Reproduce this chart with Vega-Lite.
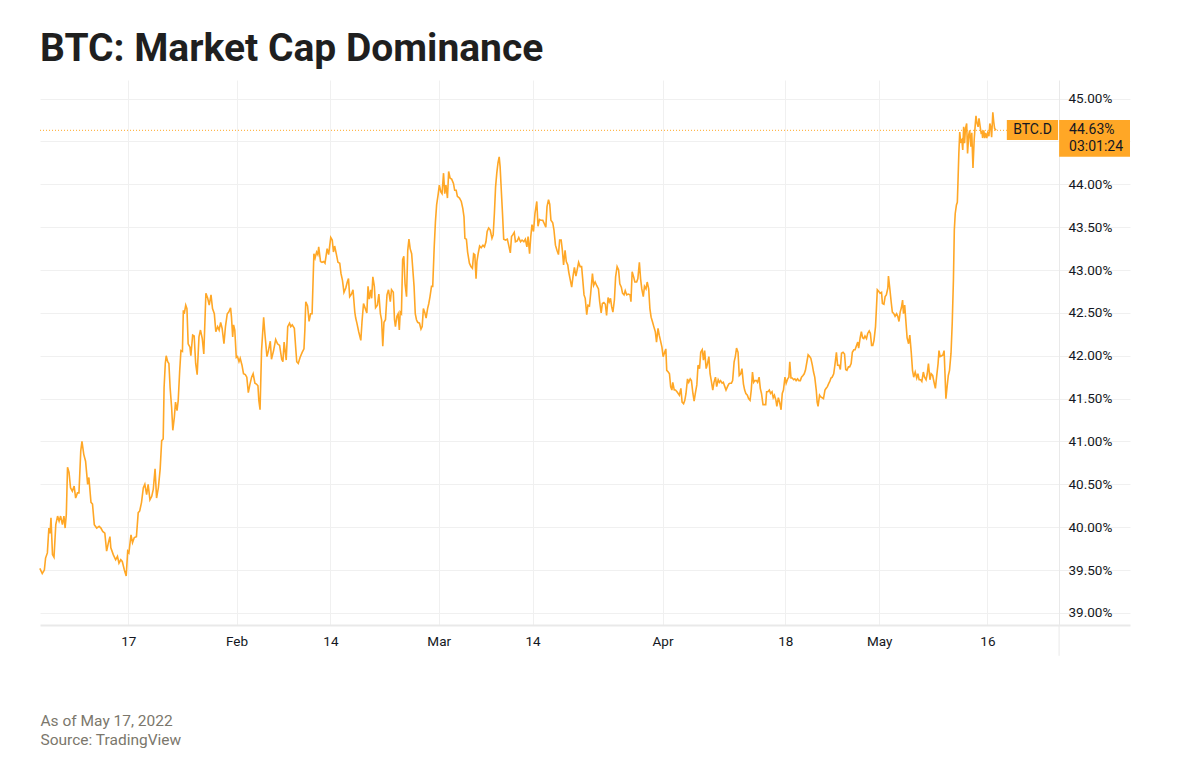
{
"$schema": "https://vega.github.io/schema/vega-lite/v6.json",
"width": 1090, "height": 545,
"autosize": {"type": "none"},
"padding": {"left": 40, "top": 80, "right": 48, "bottom": 157},
"background": "#ffffff",
"title": {"text": "BTC: Market Cap Dominance", "anchor": "start", "frame": "group", "font": "Roboto", "fontSize": 39, "fontWeight": "bold", "color": "#1f1f1f", "baseline": "alphabetic", "offset": -20},
"config": {"view": {"stroke": null}},
"layer": [
{"data": {"values": [
{"t":"2022-01-04 18","v":39.52},{"t":"2022-01-05 02","v":39.46},{"t":"2022-01-05 09","v":39.50},{"t":"2022-01-05 13","v":39.64},{"t":"2022-01-05 19","v":39.70},{"t":"2022-01-06 00","v":39.99},{"t":"2022-01-06 04","v":39.93},{"t":"2022-01-06 07","v":40.11},{"t":"2022-01-06 12","v":39.68},{"t":"2022-01-06 17","v":39.65},{"t":"2022-01-06 23","v":40.03},{"t":"2022-01-07 05","v":40.13},{"t":"2022-01-07 10","v":40.07},{"t":"2022-01-07 15","v":40.13},{"t":"2022-01-07 21","v":40.03},{"t":"2022-01-08 02","v":40.13},{"t":"2022-01-08 06","v":39.99},{"t":"2022-01-08 10","v":40.15},{"t":"2022-01-08 14","v":40.70},{"t":"2022-01-08 19","v":40.64},{"t":"2022-01-09 00","v":40.46},{"t":"2022-01-09 06","v":40.42},{"t":"2022-01-09 12","v":40.48},{"t":"2022-01-09 17","v":40.34},{"t":"2022-01-09 23","v":40.40},{"t":"2022-01-10 04","v":40.40},{"t":"2022-01-10 10","v":40.89},{"t":"2022-01-10 14","v":41.00},{"t":"2022-01-10 20","v":40.85},{"t":"2022-01-11 02","v":40.77},{"t":"2022-01-11 09","v":40.50},{"t":"2022-01-11 13","v":40.58},{"t":"2022-01-11 20","v":40.29},{"t":"2022-01-12 01","v":40.27},{"t":"2022-01-12 07","v":40.03},{"t":"2022-01-12 15","v":39.99},{"t":"2022-01-12 23","v":40.01},{"t":"2022-01-13 05","v":39.99},{"t":"2022-01-13 11","v":39.95},{"t":"2022-01-13 18","v":39.93},{"t":"2022-01-14 00","v":39.72},{"t":"2022-01-14 06","v":39.82},{"t":"2022-01-14 11","v":39.89},{"t":"2022-01-14 14","v":39.76},{"t":"2022-01-14 22","v":39.68},{"t":"2022-01-15 06","v":39.62},{"t":"2022-01-15 12","v":39.66},{"t":"2022-01-15 17","v":39.58},{"t":"2022-01-15 23","v":39.62},{"t":"2022-01-16 04","v":39.60},{"t":"2022-01-16 11","v":39.50},{"t":"2022-01-16 17","v":39.43},{"t":"2022-01-16 22","v":39.72},{"t":"2022-01-17 02","v":39.70},{"t":"2022-01-17 09","v":39.91},{"t":"2022-01-17 14","v":39.82},{"t":"2022-01-17 20","v":39.88},{"t":"2022-01-18 03","v":39.89},{"t":"2022-01-18 09","v":40.17},{"t":"2022-01-18 14","v":40.19},{"t":"2022-01-18 20","v":40.29},{"t":"2022-01-19 02","v":40.46},{"t":"2022-01-19 07","v":40.50},{"t":"2022-01-19 13","v":40.38},{"t":"2022-01-19 18","v":40.50},{"t":"2022-01-20 00","v":40.32},{"t":"2022-01-20 06","v":40.36},{"t":"2022-01-20 11","v":40.44},{"t":"2022-01-20 17","v":40.68},{"t":"2022-01-20 22","v":40.34},{"t":"2022-01-21 04","v":40.46},{"t":"2022-01-21 10","v":40.68},{"t":"2022-01-21 15","v":41.01},{"t":"2022-01-21 20","v":41.03},{"t":"2022-01-21 23","v":41.63},{"t":"2022-01-22 03","v":41.91},{"t":"2022-01-22 06","v":42.00},{"t":"2022-01-22 11","v":41.93},{"t":"2022-01-22 15","v":41.91},{"t":"2022-01-22 19","v":41.63},{"t":"2022-01-23 00","v":41.40},{"t":"2022-01-23 04","v":41.13},{"t":"2022-01-23 09","v":41.28},{"t":"2022-01-23 13","v":41.46},{"t":"2022-01-23 18","v":41.36},{"t":"2022-01-23 22","v":41.48},{"t":"2022-01-24 03","v":41.83},{"t":"2022-01-24 07","v":42.06},{"t":"2022-01-24 12","v":42.05},{"t":"2022-01-24 15","v":42.53},{"t":"2022-01-24 18","v":42.49},{"t":"2022-01-24 23","v":42.59},{"t":"2022-01-25 03","v":42.55},{"t":"2022-01-25 07","v":42.14},{"t":"2022-01-25 13","v":42.10},{"t":"2022-01-25 16","v":42.00},{"t":"2022-01-25 22","v":42.24},{"t":"2022-01-26 03","v":42.23},{"t":"2022-01-26 08","v":41.91},{"t":"2022-01-26 13","v":41.78},{"t":"2022-01-26 19","v":42.22},{"t":"2022-01-27 00","v":42.30},{"t":"2022-01-27 06","v":42.20},{"t":"2022-01-27 11","v":42.02},{"t":"2022-01-27 18","v":42.73},{"t":"2022-01-28 00","v":42.67},{"t":"2022-01-28 05","v":42.59},{"t":"2022-01-28 11","v":42.71},{"t":"2022-01-28 16","v":42.55},{"t":"2022-01-28 22","v":42.49},{"t":"2022-01-29 03","v":42.28},{"t":"2022-01-29 09","v":42.34},{"t":"2022-01-29 14","v":42.30},{"t":"2022-01-29 19","v":42.39},{"t":"2022-01-30 00","v":42.32},{"t":"2022-01-30 06","v":42.14},{"t":"2022-01-30 11","v":42.34},{"t":"2022-01-30 17","v":42.49},{"t":"2022-01-30 22","v":42.51},{"t":"2022-01-31 04","v":42.56},{"t":"2022-01-31 07","v":42.45},{"t":"2022-01-31 11","v":42.22},{"t":"2022-01-31 14","v":42.36},{"t":"2022-01-31 18","v":42.30},{"t":"2022-01-31 23","v":41.98},{"t":"2022-02-01 03","v":41.99},{"t":"2022-02-01 08","v":41.93},{"t":"2022-02-01 12","v":41.97},{"t":"2022-02-01 18","v":41.89},{"t":"2022-02-01 23","v":41.79},{"t":"2022-02-02 05","v":41.78},{"t":"2022-02-02 10","v":41.75},{"t":"2022-02-02 15","v":41.57},{"t":"2022-02-02 20","v":41.66},{"t":"2022-02-03 02","v":41.75},{"t":"2022-02-03 07","v":41.79},{"t":"2022-02-03 13","v":41.68},{"t":"2022-02-03 18","v":41.67},{"t":"2022-02-03 23","v":41.65},{"t":"2022-02-04 02","v":41.48},{"t":"2022-02-04 06","v":41.37},{"t":"2022-02-04 11","v":42.06},{"t":"2022-02-04 18","v":42.45},{"t":"2022-02-04 22","v":42.26},{"t":"2022-02-05 05","v":41.99},{"t":"2022-02-05 10","v":42.06},{"t":"2022-02-05 16","v":42.17},{"t":"2022-02-05 20","v":41.96},{"t":"2022-02-06 03","v":42.06},{"t":"2022-02-06 10","v":42.19},{"t":"2022-02-06 16","v":42.14},{"t":"2022-02-06 23","v":42.12},{"t":"2022-02-07 06","v":41.96},{"t":"2022-02-07 10","v":41.93},{"t":"2022-02-07 14","v":42.16},{"t":"2022-02-07 21","v":41.95},{"t":"2022-02-08 02","v":42.34},{"t":"2022-02-08 08","v":42.38},{"t":"2022-02-08 12","v":42.34},{"t":"2022-02-08 17","v":42.36},{"t":"2022-02-09 00","v":42.32},{"t":"2022-02-09 04","v":42.12},{"t":"2022-02-09 08","v":41.93},{"t":"2022-02-09 13","v":41.91},{"t":"2022-02-09 19","v":41.98},{"t":"2022-02-10 02","v":42.04},{"t":"2022-02-10 08","v":42.08},{"t":"2022-02-10 11","v":42.30},{"t":"2022-02-10 14","v":42.63},{"t":"2022-02-10 20","v":42.58},
{"t":"2022-02-11 01","v":42.40},{"t":"2022-02-11 06","v":42.49},{"t":"2022-02-11 11","v":42.49},{"t":"2022-02-11 17","v":43.19},{"t":"2022-02-11 21","v":43.14},{"t":"2022-02-12 02","v":43.21},{"t":"2022-02-12 06","v":43.18},{"t":"2022-02-12 09","v":43.27},{"t":"2022-02-12 15","v":43.10},{"t":"2022-02-12 20","v":43.09},{"t":"2022-02-13 02","v":43.10},{"t":"2022-02-13 06","v":43.08},{"t":"2022-02-13 13","v":43.25},{"t":"2022-02-13 18","v":43.18},{"t":"2022-02-14 01","v":43.38},{"t":"2022-02-14 06","v":43.35},{"t":"2022-02-14 10","v":43.21},{"t":"2022-02-14 14","v":43.28},{"t":"2022-02-14 20","v":43.18},{"t":"2022-02-15 01","v":43.09},{"t":"2022-02-15 07","v":43.08},{"t":"2022-02-15 11","v":42.96},{"t":"2022-02-15 16","v":42.88},{"t":"2022-02-15 21","v":42.74},{"t":"2022-02-16 03","v":42.79},{"t":"2022-02-16 08","v":42.86},{"t":"2022-02-16 12","v":42.90},{"t":"2022-02-16 16","v":42.69},{"t":"2022-02-16 22","v":42.72},{"t":"2022-02-17 03","v":42.77},{"t":"2022-02-17 09","v":42.51},{"t":"2022-02-17 12","v":42.44},{"t":"2022-02-17 16","v":42.38},{"t":"2022-02-17 22","v":42.28},{"t":"2022-02-18 05","v":42.18},{"t":"2022-02-18 09","v":42.40},{"t":"2022-02-18 14","v":42.61},{"t":"2022-02-18 20","v":42.55},{"t":"2022-02-19 01","v":42.50},{"t":"2022-02-19 05","v":42.81},{"t":"2022-02-19 09","v":42.66},{"t":"2022-02-19 14","v":42.77},{"t":"2022-02-19 17","v":42.67},{"t":"2022-02-19 21","v":42.92},{"t":"2022-02-20 02","v":42.81},{"t":"2022-02-20 06","v":42.56},{"t":"2022-02-20 12","v":42.59},{"t":"2022-02-20 17","v":42.72},{"t":"2022-02-20 22","v":42.49},{"t":"2022-02-21 02","v":42.42},{"t":"2022-02-21 06","v":42.11},{"t":"2022-02-21 10","v":42.39},{"t":"2022-02-21 15","v":42.42},{"t":"2022-02-21 20","v":42.71},{"t":"2022-02-22 01","v":42.77},{"t":"2022-02-22 07","v":42.63},{"t":"2022-02-22 11","v":42.77},{"t":"2022-02-22 17","v":42.74},{"t":"2022-02-22 21","v":42.42},{"t":"2022-02-23 00","v":42.34},{"t":"2022-02-23 05","v":42.46},{"t":"2022-02-23 09","v":42.49},{"t":"2022-02-23 13","v":42.30},{"t":"2022-02-23 16","v":42.51},{"t":"2022-02-23 20","v":42.49},{"t":"2022-02-24 00","v":43.12},{"t":"2022-02-24 04","v":43.16},{"t":"2022-02-24 08","v":42.84},{"t":"2022-02-24 13","v":42.69},{"t":"2022-02-24 17","v":43.23},{"t":"2022-02-24 21","v":43.36},{"t":"2022-02-25 01","v":43.25},{"t":"2022-02-25 06","v":43.19},{"t":"2022-02-25 10","v":43.00},{"t":"2022-02-25 14","v":42.81},{"t":"2022-02-25 18","v":42.49},{"t":"2022-02-25 22","v":42.42},{"t":"2022-02-26 02","v":42.39},{"t":"2022-02-26 08","v":42.38},{"t":"2022-02-26 13","v":42.31},{"t":"2022-02-26 17","v":42.34},{"t":"2022-02-26 21","v":42.55},{"t":"2022-02-27 02","v":42.50},{"t":"2022-02-27 06","v":42.44},{"t":"2022-02-27 11","v":42.55},{"t":"2022-02-27 15","v":42.61},{"t":"2022-02-27 19","v":42.69},{"t":"2022-02-28 00","v":42.81},{"t":"2022-02-28 04","v":42.81},{"t":"2022-02-28 09","v":43.27},{"t":"2022-02-28 13","v":43.56},{"t":"2022-02-28 17","v":43.76},{"t":"2022-02-28 22","v":43.88},{"t":"2022-03-01 02","v":43.99},{"t":"2022-03-01 07","v":43.91},{"t":"2022-03-01 11","v":43.89},{"t":"2022-03-01 16","v":44.13},{"t":"2022-03-01 20","v":43.89},{"t":"2022-03-02 00","v":43.99},{"t":"2022-03-02 05","v":43.84},{"t":"2022-03-02 09","v":44.15},{"t":"2022-03-02 14","v":44.07},{"t":"2022-03-02 19","v":44.06},{"t":"2022-03-03 01","v":44.01},{"t":"2022-03-03 05","v":43.93},{"t":"2022-03-03 10","v":43.93},{"t":"2022-03-03 14","v":43.86},{"t":"2022-03-03 21","v":43.84},{"t":"2022-03-04 03","v":43.80},{"t":"2022-03-04 08","v":43.72},{"t":"2022-03-04 12","v":43.62},{"t":"2022-03-04 15","v":43.37},{"t":"2022-03-04 20","v":43.36},{"t":"2022-03-05 00","v":43.21},{"t":"2022-03-05 06","v":43.08},{"t":"2022-03-05 11","v":43.04},{"t":"2022-03-05 16","v":43.02},{"t":"2022-03-05 20","v":43.19},{"t":"2022-03-06 00","v":43.18},{"t":"2022-03-06 04","v":42.90},{"t":"2022-03-06 07","v":43.10},{"t":"2022-03-06 11","v":43.19},{"t":"2022-03-06 16","v":43.28},{"t":"2022-03-06 21","v":43.26},{"t":"2022-03-07 03","v":43.29},{"t":"2022-03-07 08","v":43.27},{"t":"2022-03-07 13","v":43.33},{"t":"2022-03-07 17","v":43.45},{"t":"2022-03-07 22","v":43.49},{"t":"2022-03-08 03","v":43.47},{"t":"2022-03-08 09","v":43.37},{"t":"2022-03-08 13","v":43.41},{"t":"2022-03-08 17","v":43.66},{"t":"2022-03-08 21","v":43.97},{"t":"2022-03-09 01","v":44.13},{"t":"2022-03-09 05","v":44.25},{"t":"2022-03-09 09","v":44.32},{"t":"2022-03-09 12","v":44.21},{"t":"2022-03-09 16","v":43.93},{"t":"2022-03-09 20","v":43.66},{"t":"2022-03-10 00","v":43.36},{"t":"2022-03-10 06","v":43.35},{"t":"2022-03-10 12","v":43.36},{"t":"2022-03-10 16","v":43.30},{"t":"2022-03-10 22","v":43.20},{"t":"2022-03-11 02","v":43.39},{"t":"2022-03-11 06","v":43.41},{"t":"2022-03-11 11","v":43.44},{"t":"2022-03-11 15","v":43.33},{"t":"2022-03-11 21","v":43.34},{"t":"2022-03-12 02","v":43.38},{"t":"2022-03-12 08","v":43.33},{"t":"2022-03-12 13","v":43.35},{"t":"2022-03-12 19","v":43.33},{"t":"2022-03-13 00","v":43.36},{"t":"2022-03-13 05","v":43.27},{"t":"2022-03-13 09","v":43.39},{"t":"2022-03-13 14","v":43.19},{"t":"2022-03-13 18","v":43.39},{"t":"2022-03-13 22","v":43.53},{"t":"2022-03-14 03","v":43.45},{"t":"2022-03-14 08","v":43.66},{"t":"2022-03-14 14","v":43.80},{"t":"2022-03-14 18","v":43.51},{"t":"2022-03-14 23","v":43.59},{"t":"2022-03-15 04","v":43.58},{"t":"2022-03-15 10","v":43.58},{"t":"2022-03-15 15","v":43.54},{"t":"2022-03-15 20","v":43.50},{"t":"2022-03-16 00","v":43.74},{"t":"2022-03-16 05","v":43.82},{"t":"2022-03-16 09","v":43.77},{"t":"2022-03-16 13","v":43.58},{"t":"2022-03-16 19","v":43.55},{"t":"2022-03-16 23","v":43.47},{"t":"2022-03-17 04","v":43.29},{"t":"2022-03-17 09","v":43.23},{"t":"2022-03-17 14","v":43.18},{"t":"2022-03-17 18","v":43.35},{"t":"2022-03-17 23","v":43.35},{"t":"2022-03-18 03","v":43.23},{"t":"2022-03-18 07","v":43.06},{"t":"2022-03-18 12","v":43.23},{"t":"2022-03-18 16","v":43.10},{"t":"2022-03-18 21","v":43.06},{"t":"2022-03-19 00","v":42.98},
{"t":"2022-03-19 10","v":42.80},{"t":"2022-03-19 15","v":42.94},{"t":"2022-03-19 19","v":43.03},{"t":"2022-03-20 00","v":42.93},{"t":"2022-03-20 04","v":43.00},{"t":"2022-03-20 09","v":43.09},{"t":"2022-03-20 14","v":43.04},{"t":"2022-03-20 19","v":43.04},{"t":"2022-03-20 23","v":42.88},{"t":"2022-03-21 03","v":42.71},{"t":"2022-03-21 07","v":42.67},{"t":"2022-03-21 12","v":42.48},{"t":"2022-03-21 16","v":42.59},{"t":"2022-03-21 21","v":42.58},{"t":"2022-03-22 01","v":42.72},{"t":"2022-03-22 07","v":42.96},{"t":"2022-03-22 11","v":42.82},{"t":"2022-03-22 16","v":42.86},{"t":"2022-03-22 21","v":42.82},{"t":"2022-03-23 03","v":42.78},{"t":"2022-03-23 07","v":42.63},{"t":"2022-03-23 12","v":42.50},{"t":"2022-03-23 16","v":42.61},{"t":"2022-03-23 21","v":42.62},{"t":"2022-03-24 02","v":42.60},{"t":"2022-03-24 06","v":42.47},{"t":"2022-03-24 11","v":42.68},{"t":"2022-03-24 15","v":42.63},{"t":"2022-03-24 19","v":42.67},{"t":"2022-03-24 23","v":42.57},{"t":"2022-03-25 03","v":42.51},{"t":"2022-03-25 08","v":42.65},{"t":"2022-03-25 12","v":42.92},{"t":"2022-03-25 17","v":43.04},{"t":"2022-03-25 22","v":43.00},{"t":"2022-03-26 02","v":42.84},{"t":"2022-03-26 07","v":42.80},{"t":"2022-03-26 11","v":42.73},{"t":"2022-03-26 16","v":42.71},{"t":"2022-03-26 20","v":42.76},{"t":"2022-03-27 01","v":42.71},{"t":"2022-03-27 06","v":42.72},{"t":"2022-03-27 12","v":42.71},{"t":"2022-03-27 15","v":42.63},{"t":"2022-03-27 19","v":42.98},{"t":"2022-03-28 00","v":42.92},{"t":"2022-03-28 04","v":42.86},{"t":"2022-03-28 10","v":42.86},{"t":"2022-03-28 14","v":42.90},{"t":"2022-03-28 19","v":43.09},{"t":"2022-03-28 23","v":42.90},{"t":"2022-03-29 03","v":42.78},{"t":"2022-03-29 08","v":42.69},{"t":"2022-03-29 12","v":42.81},{"t":"2022-03-29 17","v":42.78},{"t":"2022-03-29 21","v":42.86},{"t":"2022-03-30 02","v":42.78},{"t":"2022-03-30 06","v":42.55},{"t":"2022-03-30 10","v":42.45},{"t":"2022-03-30 15","v":42.39},{"t":"2022-03-30 19","v":42.34},{"t":"2022-03-31 00","v":42.28},{"t":"2022-03-31 04","v":42.16},{"t":"2022-03-31 09","v":42.32},{"t":"2022-03-31 13","v":42.24},{"t":"2022-03-31 17","v":42.18},{"t":"2022-03-31 22","v":42.10},{"t":"2022-04-01 02","v":41.99},{"t":"2022-04-01 07","v":42.04},{"t":"2022-04-01 11","v":42.08},{"t":"2022-04-01 14","v":41.83},{"t":"2022-04-01 19","v":41.81},{"t":"2022-04-01 23","v":41.79},{"t":"2022-04-02 03","v":41.64},{"t":"2022-04-02 07","v":41.60},{"t":"2022-04-02 10","v":41.69},{"t":"2022-04-02 15","v":41.60},{"t":"2022-04-02 19","v":41.60},{"t":"2022-04-03 00","v":41.58},{"t":"2022-04-03 04","v":41.56},{"t":"2022-04-03 08","v":41.54},{"t":"2022-04-03 13","v":41.62},{"t":"2022-04-03 17","v":41.46},{"t":"2022-04-03 22","v":41.44},{"t":"2022-04-04 02","v":41.48},{"t":"2022-04-04 06","v":41.56},{"t":"2022-04-04 11","v":41.73},{"t":"2022-04-04 15","v":41.69},{"t":"2022-04-04 20","v":41.73},{"t":"2022-04-05 00","v":41.71},{"t":"2022-04-05 05","v":41.56},{"t":"2022-04-05 09","v":41.47},{"t":"2022-04-05 13","v":41.56},{"t":"2022-04-05 18","v":41.66},{"t":"2022-04-05 22","v":41.89},{"t":"2022-04-06 03","v":41.85},{"t":"2022-04-06 07","v":42.04},{"t":"2022-04-06 12","v":42.07},{"t":"2022-04-06 16","v":41.95},{"t":"2022-04-06 20","v":42.06},{"t":"2022-04-07 01","v":41.85},{"t":"2022-04-07 05","v":41.90},{"t":"2022-04-07 10","v":41.99},{"t":"2022-04-07 14","v":41.79},{"t":"2022-04-07 18","v":41.71},{"t":"2022-04-07 23","v":41.60},{"t":"2022-04-08 03","v":41.69},{"t":"2022-04-08 08","v":41.75},{"t":"2022-04-08 12","v":41.64},{"t":"2022-04-08 17","v":41.72},{"t":"2022-04-08 21","v":41.69},{"t":"2022-04-09 01","v":41.71},{"t":"2022-04-09 06","v":41.68},{"t":"2022-04-09 10","v":41.69},{"t":"2022-04-09 15","v":41.64},{"t":"2022-04-09 19","v":41.60},{"t":"2022-04-10 00","v":41.64},{"t":"2022-04-10 04","v":41.67},{"t":"2022-04-10 08","v":41.68},{"t":"2022-04-10 13","v":41.68},{"t":"2022-04-10 17","v":41.71},{"t":"2022-04-10 22","v":41.93},{"t":"2022-04-11 02","v":41.99},{"t":"2022-04-11 06","v":42.09},{"t":"2022-04-11 11","v":42.04},{"t":"2022-04-11 15","v":41.77},{"t":"2022-04-11 20","v":41.79},{"t":"2022-04-12 00","v":41.85},{"t":"2022-04-12 05","v":41.67},{"t":"2022-04-12 09","v":41.60},{"t":"2022-04-12 13","v":41.56},{"t":"2022-04-12 18","v":41.54},{"t":"2022-04-12 22","v":41.50},{"t":"2022-04-13 03","v":41.48},{"t":"2022-04-13 07","v":41.60},{"t":"2022-04-13 11","v":41.81},{"t":"2022-04-13 15","v":41.69},{"t":"2022-04-13 19","v":41.71},{"t":"2022-04-14 00","v":41.71},{"t":"2022-04-14 04","v":41.69},{"t":"2022-04-14 09","v":41.75},{"t":"2022-04-14 13","v":41.62},{"t":"2022-04-14 17","v":41.56},{"t":"2022-04-14 22","v":41.43},{"t":"2022-04-15 02","v":41.43},{"t":"2022-04-15 07","v":41.43},{"t":"2022-04-15 10","v":41.58},{"t":"2022-04-15 14","v":41.58},{"t":"2022-04-15 19","v":41.60},{"t":"2022-04-15 23","v":41.56},{"t":"2022-04-16 04","v":41.58},{"t":"2022-04-16 08","v":41.51},{"t":"2022-04-16 12","v":41.54},{"t":"2022-04-16 17","v":41.48},{"t":"2022-04-16 20","v":41.41},{"t":"2022-04-17 01","v":41.51},{"t":"2022-04-17 05","v":41.46},{"t":"2022-04-17 10","v":41.37},{"t":"2022-04-17 14","v":41.56},{"t":"2022-04-17 18","v":41.60},{"t":"2022-04-17 23","v":41.75},{"t":"2022-04-18 03","v":41.68},{"t":"2022-04-18 08","v":41.73},{"t":"2022-04-18 12","v":41.75},{"t":"2022-04-18 15","v":41.93},{"t":"2022-04-18 19","v":41.74},{"t":"2022-04-18 23","v":41.74},{"t":"2022-04-19 04","v":41.72},{"t":"2022-04-19 08","v":41.73},{"t":"2022-04-19 12","v":41.71},{"t":"2022-04-19 17","v":41.73},{"t":"2022-04-19 21","v":41.71},{"t":"2022-04-20 02","v":41.71},{"t":"2022-04-20 06","v":41.75},{"t":"2022-04-20 11","v":41.77},{"t":"2022-04-20 15","v":41.79},{"t":"2022-04-20 19","v":41.83},{"t":"2022-04-21 00","v":41.93},{"t":"2022-04-21 04","v":42.01},{"t":"2022-04-21 09","v":41.99},{"t":"2022-04-21 13","v":41.97},{"t":"2022-04-21 18","v":41.89},{"t":"2022-04-21 22","v":41.81},{"t":"2022-04-22 02","v":41.75},{"t":"2022-04-22 07","v":41.60},{"t":"2022-04-22 10","v":41.46},{"t":"2022-04-22 13","v":41.41},{"t":"2022-04-22 18","v":41.54},{"t":"2022-04-22 22","v":41.52},{"t":"2022-04-23 03","v":41.51},{"t":"2022-04-23 07","v":41.50},{"t":"2022-04-23 12","v":41.60},{"t":"2022-04-23 16","v":41.62},{"t":"2022-04-23 20","v":41.64},{"t":"2022-04-24 01","v":41.68},
{"t":"2022-04-24 04","v":41.70},{"t":"2022-04-24 08","v":41.74},{"t":"2022-04-24 12","v":41.75},{"t":"2022-04-24 17","v":41.79},{"t":"2022-04-24 21","v":41.89},{"t":"2022-04-25 02","v":42.04},{"t":"2022-04-25 06","v":41.89},{"t":"2022-04-25 11","v":41.89},{"t":"2022-04-25 15","v":41.84},{"t":"2022-04-25 19","v":42.03},{"t":"2022-04-26 00","v":42.04},{"t":"2022-04-26 05","v":42.02},{"t":"2022-04-26 09","v":41.84},{"t":"2022-04-26 13","v":41.83},{"t":"2022-04-26 18","v":41.87},{"t":"2022-04-26 22","v":41.87},{"t":"2022-04-27 03","v":41.91},{"t":"2022-04-27 07","v":42.04},{"t":"2022-04-27 12","v":42.07},{"t":"2022-04-27 16","v":42.07},{"t":"2022-04-27 20","v":42.11},{"t":"2022-04-28 01","v":42.16},{"t":"2022-04-28 04","v":42.09},{"t":"2022-04-28 09","v":42.21},{"t":"2022-04-28 13","v":42.28},{"t":"2022-04-28 17","v":42.21},{"t":"2022-04-28 21","v":42.20},{"t":"2022-04-29 01","v":42.23},{"t":"2022-04-29 06","v":42.20},{"t":"2022-04-29 10","v":42.26},{"t":"2022-04-29 15","v":42.29},{"t":"2022-04-29 19","v":42.26},{"t":"2022-04-29 23","v":42.12},{"t":"2022-04-30 03","v":42.12},{"t":"2022-04-30 07","v":42.18},{"t":"2022-04-30 12","v":42.34},{"t":"2022-04-30 15","v":42.55},{"t":"2022-04-30 18","v":42.77},{"t":"2022-04-30 23","v":42.75},{"t":"2022-05-01 03","v":42.73},{"t":"2022-05-01 08","v":42.74},{"t":"2022-05-01 11","v":42.61},{"t":"2022-05-01 16","v":42.60},{"t":"2022-05-01 20","v":42.69},{"t":"2022-05-02 00","v":42.71},{"t":"2022-05-02 05","v":42.79},{"t":"2022-05-02 07","v":42.93},{"t":"2022-05-02 12","v":42.77},{"t":"2022-05-02 16","v":42.63},{"t":"2022-05-02 20","v":42.51},{"t":"2022-05-03 01","v":42.49},{"t":"2022-05-03 05","v":42.46},{"t":"2022-05-03 10","v":42.49},{"t":"2022-05-03 14","v":42.46},{"t":"2022-05-03 18","v":42.40},{"t":"2022-05-03 22","v":42.51},{"t":"2022-05-04 02","v":42.56},{"t":"2022-05-04 06","v":42.65},{"t":"2022-05-04 09","v":42.49},{"t":"2022-05-04 13","v":42.59},{"t":"2022-05-04 17","v":42.40},{"t":"2022-05-04 21","v":42.21},{"t":"2022-05-05 02","v":42.14},{"t":"2022-05-05 06","v":42.24},{"t":"2022-05-05 11","v":42.03},{"t":"2022-05-05 15","v":41.83},{"t":"2022-05-05 19","v":41.75},{"t":"2022-05-06 00","v":41.81},{"t":"2022-05-06 05","v":41.74},{"t":"2022-05-06 09","v":41.79},{"t":"2022-05-06 13","v":41.72},{"t":"2022-05-06 18","v":41.72},{"t":"2022-05-06 22","v":41.70},{"t":"2022-05-07 03","v":41.81},{"t":"2022-05-07 07","v":41.75},{"t":"2022-05-07 12","v":41.72},{"t":"2022-05-07 16","v":41.79},{"t":"2022-05-07 20","v":41.91},{"t":"2022-05-08 01","v":41.72},{"t":"2022-05-08 05","v":41.79},{"t":"2022-05-08 10","v":41.77},{"t":"2022-05-08 14","v":41.70},{"t":"2022-05-08 19","v":41.62},{"t":"2022-05-08 23","v":41.75},{"t":"2022-05-09 04","v":41.91},{"t":"2022-05-09 07","v":42.06},{"t":"2022-05-09 11","v":41.99},{"t":"2022-05-09 16","v":42.00},{"t":"2022-05-09 20","v":42.01},{"t":"2022-05-10 00","v":42.06},{"t":"2022-05-10 03","v":41.79},{"t":"2022-05-10 06","v":41.50},{"t":"2022-05-10 10","v":41.64},{"t":"2022-05-10 14","v":41.77},{"t":"2022-05-10 18","v":41.83},{"t":"2022-05-10 23","v":42.03},{"t":"2022-05-11 03","v":42.38},{"t":"2022-05-11 07","v":42.88},{"t":"2022-05-11 10","v":43.47},{"t":"2022-05-11 13","v":43.66},{"t":"2022-05-11 17","v":43.76},{"t":"2022-05-11 20","v":43.79},{"t":"2022-05-11 22","v":44.01},{"t":"2022-05-12 01","v":44.36},{"t":"2022-05-12 04","v":44.61},{"t":"2022-05-12 07","v":44.50},{"t":"2022-05-12 11","v":44.52},{"t":"2022-05-12 14","v":44.40},{"t":"2022-05-12 17","v":44.67},{"t":"2022-05-12 20","v":44.48},{"t":"2022-05-12 23","v":44.65},{"t":"2022-05-13 03","v":44.71},{"t":"2022-05-13 06","v":44.36},{"t":"2022-05-13 10","v":44.58},{"t":"2022-05-13 13","v":44.63},{"t":"2022-05-13 17","v":44.44},{"t":"2022-05-13 20","v":44.60},{"t":"2022-05-14 00","v":44.19},{"t":"2022-05-14 04","v":44.52},{"t":"2022-05-14 07","v":44.67},{"t":"2022-05-14 10","v":44.80},{"t":"2022-05-14 13","v":44.72},{"t":"2022-05-14 17","v":44.67},{"t":"2022-05-14 20","v":44.77},{"t":"2022-05-15 00","v":44.67},{"t":"2022-05-15 03","v":44.60},{"t":"2022-05-15 06","v":44.61},{"t":"2022-05-15 08","v":44.54},{"t":"2022-05-15 12","v":44.63},{"t":"2022-05-15 15","v":44.54},{"t":"2022-05-15 18","v":44.60},{"t":"2022-05-15 22","v":44.54},{"t":"2022-05-16 01","v":44.60},{"t":"2022-05-16 05","v":44.56},{"t":"2022-05-16 08","v":44.71},{"t":"2022-05-16 11","v":44.67},{"t":"2022-05-16 14","v":44.55},{"t":"2022-05-16 18","v":44.84},{"t":"2022-05-16 21","v":44.73},{"t":"2022-05-17 00","v":44.65},{"t":"2022-05-17 05","v":44.63}
], "format": {"parse": {"t": "utc:'%Y-%m-%d %H'"}}},
"mark": {"type": "line", "color": "#ffa726", "strokeWidth": 1.6},
"encoding": {
"x": {"field": "t", "type": "temporal",
 "scale": {"type": "utc", "domain": [{"year": 2022, "month": 1, "date": 4, "hours": 18, "minutes": 30, "utc": true}, {"year": 2022, "month": 6, "date": 4, "hours": 18, "utc": true}]},
 "axis": {"values": [{"year": 2022, "month": 1, "date": 17, "utc": true}, {"year": 2022, "month": 2, "date": 1, "utc": true}, {"year": 2022, "month": 2, "date": 14, "utc": true}, {"year": 2022, "month": 3, "date": 1, "utc": true}, {"year": 2022, "month": 3, "date": 14, "utc": true}, {"year": 2022, "month": 4, "date": 1, "utc": true}, {"year": 2022, "month": 4, "date": 18, "utc": true}, {"year": 2022, "month": 5, "date": 1, "utc": true}, {"year": 2022, "month": 5, "date": 16, "utc": true}],
  "labelExpr": "utcdate(datum.value) == 1 ? utcFormat(datum.value, '%b') : utcFormat(datum.value, '%d')",
  "grid": true, "gridColor": "#f0f0f0", "gridWidth": 1, "ticks": false,
  "domainColor": "#e9e9e9", "domainWidth": 2,
  "labelFont": "Roboto", "labelFontSize": 13.5, "labelColor": "#131722", "labelPadding": 9, "labelFlush": false, "labelOverlap": false,
  "title": ["As of May 17, 2022", "Source: TradingView"],
  "titleFont": "Roboto", "titleFontSize": 15.5, "titleFontWeight": "normal", "titleColor": "#7b776c",
  "titleAnchor": "start", "titleAlign": "left", "titleBaseline": "alphabetic", "titleX": 0, "titleY": 100, "titleLineHeight": 19}},
"y": {"field": "v", "type": "quantitative",
 "scale": {"domain": [38.859, 45.217], "zero": false, "nice": false},
 "axis": {"orient": "right", "offset": -71, "values": [39, 39.5, 40, 40.5, 41, 41.5, 42, 42.5, 43, 43.5, 44, 44.5, 45],
  "labelExpr": "datum.value == 44.5 ? '' : format(datum.value, '.2f') + '%'",
  "grid": true, "gridColor": "#f0f0f0", "gridWidth": 1, "ticks": false,
  "domainColor": "#e9e9e9", "domainWidth": 1,
  "labelFont": "Roboto", "labelFontSize": 13.5, "labelColor": "#131722", "labelPadding": 9, "labelFlush": false, "labelOverlap": false,
  "title": null}}
}},
{"data": {"values": [{"t": "2022-05-25 22:20", "v1": 38.859, "v2": 38.5}], "format": {"parse": {"t": "utc:'%Y-%m-%d %H:%M'"}}},
 "mark": {"type": "rule", "color": "#e9e9e9", "strokeWidth": 1, "clip": false},
 "encoding": {"x": {"field": "t", "type": "temporal"}, "y": {"field": "v1", "type": "quantitative"}, "y2": {"field": "v2"}}},
{"data": {"values": [{"v": 44.63}]},
 "mark": {"type": "rule", "color": "#ffa726", "strokeDash": [1, 2], "strokeWidth": 1},
 "encoding": {"y": {"field": "v", "type": "quantitative"}}},
{"data": {"values": [
 {"t1": "2022-05-18 16:30", "t2": "2022-05-25 19:00", "v1": 44.75, "v2": 44.517},
 {"t1": "2022-05-25 22:20", "t2": "2022-06-04 18:00", "v1": 44.75, "v2": 44.322}
], "format": {"parse": {"t1": "utc:'%Y-%m-%d %H:%M'", "t2": "utc:'%Y-%m-%d %H:%M'"}}},
 "mark": {"type": "rect", "color": "#ffa726"},
 "encoding": {"x": {"field": "t1", "type": "temporal"}, "x2": {"field": "t2"}, "y": {"field": "v1", "type": "quantitative"}, "y2": {"field": "v2"}}},
{"data": {"values": [
 {"t": "2022-05-19 13:30", "v": 44.633, "s": "BTC.D"},
 {"t": "2022-05-27 07:30", "v": 44.633, "s": "44.63%"},
 {"t": "2022-05-27 07:30", "v": 44.439, "s": "03:01:24"}
], "format": {"parse": {"t": "utc:'%Y-%m-%d %H:%M'"}}},
 "mark": {"type": "text", "align": "left", "baseline": "middle", "font": "Roboto", "fontSize": 14, "color": "#131722"},
 "encoding": {"x": {"field": "t", "type": "temporal"}, "y": {"field": "v", "type": "quantitative"}, "text": {"field": "s"}}}
]
}
